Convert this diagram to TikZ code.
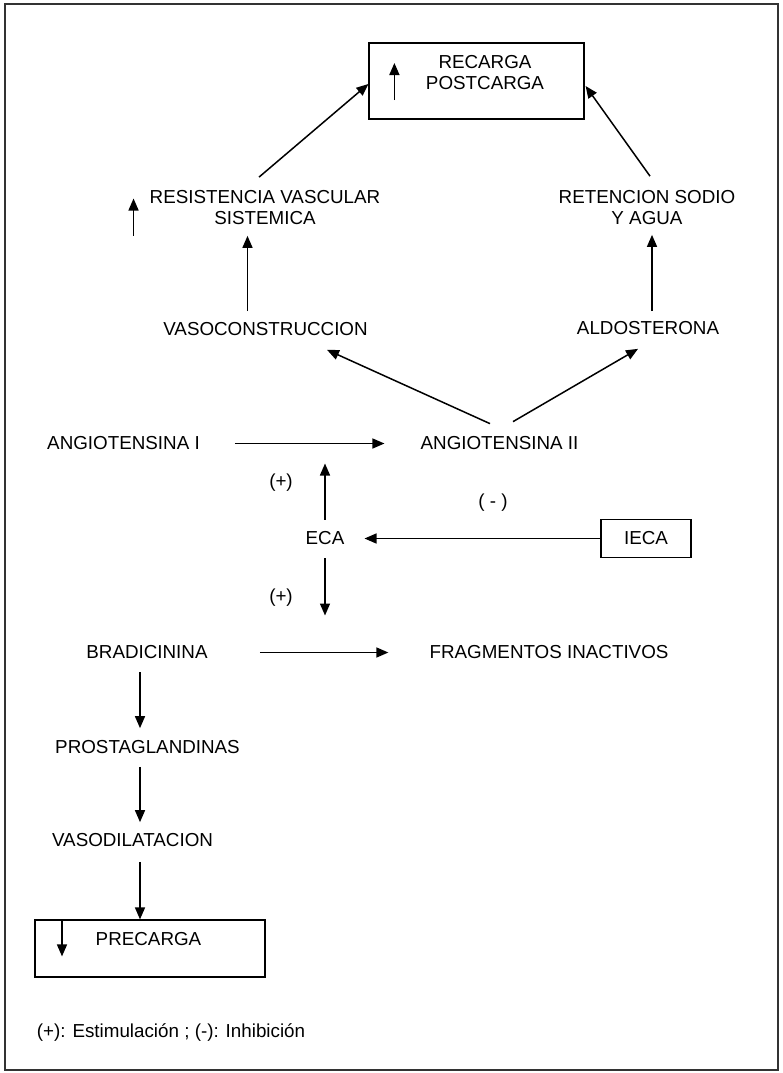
\documentclass[tikz,border=0pt]{standalone}
\usepackage{fontspec}
\setmainfont{Liberation Sans}
\usetikzlibrary{arrows.meta}

\begin{document}
\begin{tikzpicture}[x=1pt,y=-1pt,
    every node/.style={font=\fontsize{18.8}{21}\selectfont,inner sep=0pt,align=center},
    box/.style={draw,line width=1.2pt},
    arr/.style={line width=1.5pt,-{Triangle[length=12pt,width=10pt]}}]

  \useasboundingbox (0,0) rectangle (782,1073);
  \draw[line width=1.8pt,black!80] (5,4) rectangle (778,1070);

  \node[box,minimum width=215pt,minimum height=76pt] (rec) at (476.5,81) {};
  \node (rectxt) at (485,72.5) {RECARGA\\POSTCARGA};
  \node (rvs) at (265,207.5) {RESISTENCIA VASCULAR\\SISTEMICA};
  \node (rsa) at (647,207.5) {RETENCION SODIO\\Y AGUA};
  \node (vaso) at (265.5,329) {VASOCONSTRUCCION};
  \node (aldo) at (648,328) {ALDOSTERONA};
  \node (ai) at (123.5,443.5) {ANGIOTENSINA I};
  \node (aii) at (499.5,443.5) {ANGIOTENSINA II};
  \node (plusa) at (281,483) {(+)};
  \node (minus) at (493,503) {( - )};
  \node (eca) at (325,538.5) {ECA};
  \node[box,minimum width=90pt,minimum height=38pt] (ieca) at (646,538.5) {IECA};
  \node (plusb) at (281,598) {(+)};
  \node (brad) at (147,652.5) {BRADICININA};
  \node (frag) at (549,652.5) {FRAGMENTOS INACTIVOS};
  \node (prost) at (147.5,747) {PROSTAGLANDINAS};
  \node (vasod) at (132.5,840) {VASODILATACION};
  \node[box,minimum width=230pt,minimum height=57pt] (pre) at (150,948.5) {};
  \node (pretxt) at (148.5,939) {PRECARGA};
  \node (leyenda) at (171,1033) {(+): Estimulación ; (-): Inhibición};

  \coordinate (r1) at (eca |- ai);
  \coordinate (r2) at (eca |- brad);

  \draw[arr] ([xshift=-6pt,yshift=13pt]rvs.north) -- ([yshift=-3pt]rec.west);
  \draw[arr] ([xshift=3pt,yshift=14pt]rsa.north) -- ([xshift=1pt,yshift=-5pt]rec.east);
  \draw[arr,shorten <=11pt,shorten >=11pt] ([xshift=-18pt]vaso.north) -- ([xshift=-18pt]vaso.north |- rvs.south);
  \draw[arr,shorten <=10pt,shorten >=10pt] ([xshift=4pt]aldo.north) -- ([xshift=4pt]aldo.north |- rsa.south);
  \draw[arr] ([xshift=-9.5pt,yshift=13pt]aii.north) -- ([xshift=61.5pt,yshift=-14pt]vaso.south);
  \draw[arr] ([xshift=13.5pt,yshift=15pt]aii.north) -- ([xshift=-10pt,yshift=-14pt]aldo.south);
  \draw[arr,shorten <=35pt,shorten >=36pt] (ai.east) -- (aii.west);
  \draw[arr,shorten <=12pt,shorten >=20pt] (eca.north) -- (r1);
  \draw[arr,shorten <=13pt,shorten >=37pt] (eca.south) -- (r2);
  \draw[arr,shorten >=20pt] (ieca.west) -- (eca.east);
  \draw[arr,shorten <=52pt,shorten >=41pt] (brad.east) -- (frag.west);
  \draw[arr,shorten <=13pt,shorten >=12pt] ([xshift=-7pt]brad.south) -- ([xshift=-7pt]brad.south |- prost.north);
  \draw[arr,shorten <=13pt,shorten >=11pt] ([xshift=-7.5pt]prost.south) -- ([xshift=-7.5pt]prost.south |- vasod.north);
  \draw[arr,shorten <=15pt] ([xshift=7.5pt]vasod.south) -- ([xshift=7.5pt]vasod.south |- pre.north);

  \draw[arr] ([xshift=-16pt,yshift=-28pt]rvs.west) -- ++(0,-37);
  \draw[arr] ([xshift=26pt,yshift=-19pt]rec.west) -- ++(0,-37);
  \draw[arr] ([xshift=-88pt]pre.north) -- ++(0,37);
\end{tikzpicture}
\end{document}
